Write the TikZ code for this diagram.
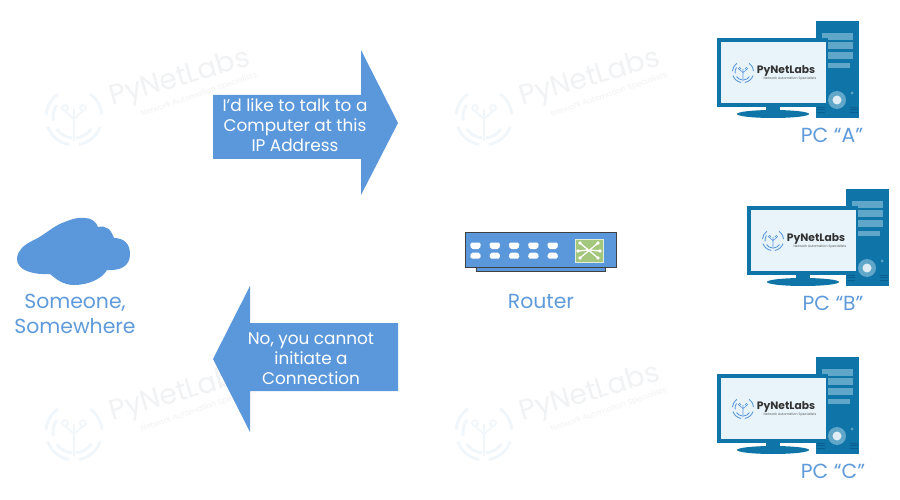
\documentclass[tikz,border=0pt]{standalone}
\usepackage{fontspec}
\setmainfont{Poppins}
\definecolor{bluefill}{HTML}{5B98DB}
\definecolor{bluetext}{HTML}{5F9BDA}
\definecolor{pcblue}{HTML}{0F75A8}
\definecolor{pcdark}{HTML}{0B5F8E}
\definecolor{pclight}{HTML}{5FA6C8}
\definecolor{screenfill}{HTML}{E8F4FA}
\definecolor{greenbox}{HTML}{A3C77C}
\definecolor{markpale}{HTML}{F1F6FB}
\definecolor{textpale}{HTML}{F1F2F4}
\tikzset{
  bigarrow/.style={fill=bluefill,draw=none},
  arrowtext/.style={text=white,font=\fontsize{9.6}{11.4}\selectfont,align=center},
  bluelabel/.style={text=bluetext,font=\fontsize{11.6}{14}\selectfont,align=center},
  logomark/.pic={
    \foreach \r/\a/\b in {28/20/80,28/100/160,28/185/235,28/305/355,21/35/85,21/95/145,21/170/215}{
      \draw[line width=#1] (\a:\r) arc (\a:\b:\r);
    }
    \draw[line width=#1*0.6] (0,24) -- (0,2) -- (-9,-6) (0,2) -- (9,-6) (0,8) -- (0,-8);
    \draw[line width=#1*0.6] (-9,-9) circle (3) (9,-9) circle (3);
  }
}
\begin{document}
\begin{tikzpicture}[x=0.02cm,y=-0.02cm]
\fill[white] (0,0) rectangle (900,500);
\useasboundingbox (0,0) rectangle (900,500);
% watermarks
\foreach \x/\y in {0/0,410/0,0/315,410/315}{
  \begin{scope}[shift={(\x,\y)}]
    \pic[draw=markpale] at (74,117) {logomark=1.6pt};
    \node (wmark\x\y) at (180,79) [rotate=16,inner sep=0pt,text=textpale,font=\fontsize{16}{16}\selectfont]{PyNetLabs};
    \node (wtag\x\y) at (199,95) [rotate=19,inner sep=0pt,text=textpale,font=\fontsize{4.4}{5}\selectfont]{Network Automation Specialists};
  \end{scope}
}
% arrows
\fill[bigarrow] (213,95) -- (361,95) -- (361,50) -- (398,123) -- (361,195) -- (361,159) -- (213,159) -- cycle;
\fill[bigarrow] (398,323) -- (250,323) -- (250,286) -- (213,359) -- (250,432) -- (250,391) -- (398,391) -- cycle;
\node (asktext) at (295,125) [arrowtext]{I’d like to talk to a\\Computer at this\\IP Address};
\node (denytext) at (311,359) [arrowtext]{No, you cannot\\initiate a\\Connection};
% cloud
\fill[bluefill] (17,258) .. controls (18,250) and (24,245) .. (32,241)
  .. controls (45,235) and (52,227) .. (62,223)
  .. controls (72,219) and (78,217) .. (85,218)
  .. controls (92,218) and (96,222) .. (98,227)
  .. controls (107,225) and (111,230) .. (114,238)
  .. controls (124,238) and (130,244) .. (130,254)
  .. controls (130,265) and (122,271) .. (107,270)
  .. controls (102,279) and (88,285) .. (74,285)
  .. controls (63,285) and (56,279) .. (50,274)
  .. controls (35,275) and (16,271) .. (17,258) -- cycle;
\node (someone) at (75,314) [bluelabel]{Someone,\\Somewhere};
% router
\fill[bluefill,draw=black!75,line width=0.5pt] (476,266) -- (476,271) -- (605,271) -- (605,266);
\fill[bluefill,draw=black!75,line width=0.5pt] (465,232) rectangle (616,267);
\foreach \x in {0,1,2,3,4}{
  \fill[white,rounded corners=1pt] (470+\x*19.3,242.5) -- (481+\x*19.3,242.5) -- (480+\x*19.3,249) -- (471+\x*19.3,249) -- cycle;
  \fill[white,rounded corners=1pt] (471+\x*19.3,252.5) -- (480+\x*19.3,252.5) -- (481+\x*19.3,258.5) -- (470+\x*19.3,258.5) -- cycle;
}
\fill[greenbox,draw=white!70!greenbox,line width=0.5pt] (575,239) rectangle (603,262);
\draw[white,line width=0.7pt] (580,243) -- (598,258) (598,243) -- (580,258) (589,250) -- (578,251) (589,250) -- (600,251);
\foreach \x/\y in {580/243,598/243,580/258,598/258,578/251,600/251}{ \fill[white] (\x,\y) circle (1.8); }
\node (router) at (541,301) [bluelabel]{Router};
% computers
\foreach \x/\y/\label/\z in {0/0/A/832,30/168/B/803,0/336/C/833}{
  \begin{scope}[shift={(\x,\y)}]
    \fill[pcblue] (816,21) rectangle (859,118);
    \fill[pclight] (822,33) rectangle (853,40);
    \foreach \k in {0,1}{ \fill[pclight] (822,42+\k*10) rectangle (853,49+\k*10); }
    \fill[pclight] (822,63) rectangle (850,68);
    \fill[pclight] (837,100) circle (9);
    \fill[white!80!pclight] (837,100) circle (4.5);
    \fill[pclight] (852,93) circle (1.5);
    \foreach \k in {0,1,2}{ \draw[pcdark,line width=0.5pt] (850,107+\k*2.5) -- (858,107+\k*2.5);
      \draw[pcdark,line width=0.5pt] (817,107+\k*2.5) -- (825,107+\k*2.5); }
    \fill[pcblue] (766,107) rectangle (780,113);
    \fill[pcblue] (773,114) ellipse (36 and 4);
    \fill[pcblue] (717,38) rectangle (828,107);
    \fill[screenfill] (721,42) rectangle (826,103);
    \pic[draw=bluefill,scale=0.38] at (743,72) {logomark=0.5pt};
    \node (logo\label) at (786,71) [inner sep=0pt,text=black!80,font=\fontsize{6.1}{6.1}\selectfont\bfseries]{PyNetLabs};
    \node (tag\label) at (790,79) [inner sep=0pt,text=black!65,font=\fontsize{1.9}{2}\selectfont]{Network Automation Specialists};
    \node (pc\label) at (\z,135) [bluelabel]{PC “\label”};
  \end{scope}
}
\end{tikzpicture}
\end{document}
